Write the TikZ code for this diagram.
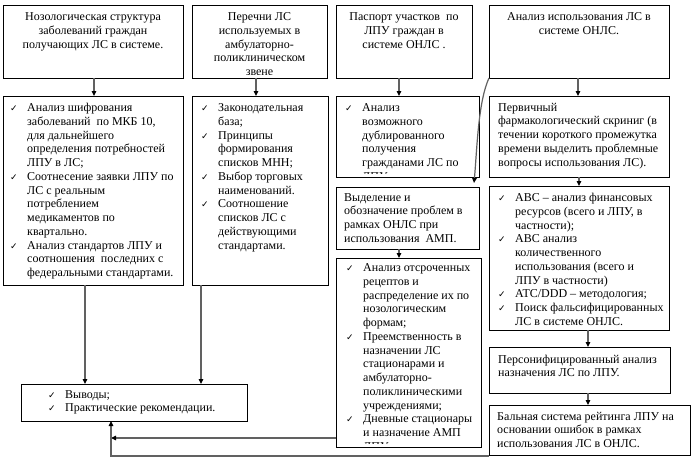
\documentclass[tikz,border=0pt]{standalone}
\usepackage{fontspec}
\setmainfont{Liberation Serif}
\newfontfamily\tnrf{Liberation Serif}
\newfontfamily\symf{DejaVu Sans}
\usetikzlibrary{arrows.meta,calc}
\newcommand\ckm{\makebox[17pt][l]{\symf\fontsize{9}{9}\selectfont ✓}}
\newcommand\hng{\makebox[17pt]{}}
\newcommand\tst{\rule{0pt}{10pt}}
\newcommand\bx[5]{\node[box,minimum width=#4pt-#2pt,minimum height=#5pt-#3pt] (#1) at (#2,#3) {};}
\begin{document}
\begin{tikzpicture}[x=1pt,y=-1pt,
  box/.style={draw=black,line width=0.8pt,inner sep=0pt,outer sep=0pt,anchor=north west},
  tfont/.style={font=\tnrf\fontsize{12}{13.75}\selectfont},
  ctxt/.style={tfont,inner sep=0pt,anchor=north,align=center},
  ltxt/.style={tfont,inner sep=0pt,anchor=north west,align=left},
  conn/.style={draw=black!62,line width=1.2pt,-{Triangle[length=5pt,width=4.5pt,color=black]}}]
\useasboundingbox (0,0) rectangle (693,458);
% boxes
\bx{a1}{3}{5}{183}{78}
\bx{a2}{192}{5}{327}{78}
\bx{a3}{336}{5}{472}{78}
\bx{a4}{489}{5}{669}{78}
\bx{b1}{3}{96}{183}{285}
\bx{b2}{192}{96}{328}{285}
\bx{b3}{336}{96}{479}{177}
\bx{b4}{489}{96}{669}{177}
\bx{c3}{336}{187}{479}{249}
\bx{c4}{489}{186}{669}{330}
\bx{d3}{336}{258}{481}{447}
\bx{d4}{489}{347}{670}{393}
\bx{e4}{489}{405}{690}{455}
\bx{f}{21}{384}{247}{421}
% texts
\node[ctxt] (a1t) at ($(a1.north)+(0,5.5)$) {\tst Нозологическая структура\\заболеваний граждан\\получающих ЛС в системе.};
\begin{scope}
\clip (192,5) rectangle (327,74.5);
\node[ctxt] (a2t) at ($(a2.north)+(0,5.5)$) {\tst Перечни ЛС\\используемых в\\амбулаторно-\\поликлиническом\\звене};
\end{scope}
\node[ctxt] (a3t) at ($(a3.north)+(0,5.5)$) {\tst Паспорт участков~ по\\ЛПУ граждан в\\системе ОНЛС .};
\node[ctxt] (a4t) at ($(a4.north)+(0,5.5)$) {\tst Анализ использования ЛС в\\системе ОНЛС.};
\node[ltxt] (b1t) at ($(b1.north west)+(7,5.5)$) {\tst\ckm Анализ шифрования\\\hng заболеваний~ по МКБ 10,\\\hng для дальнейшего\\\hng определения потребностей\\\hng ЛПУ в ЛС;\\\ckm Соотнесение заявки ЛПУ по\\\hng ЛС с реальным\\\hng потреблением\\\hng медикаментов по\\\hng квартально.\\\ckm Анализ стандартов ЛПУ и\\\hng соотношения~ последних с\\\hng федеральными стандартами.};
\node[ltxt] (b2t) at ($(b2.north west)+(9,5.5)$) {\tst\ckm Законодательная\\\hng база;\\\ckm Принципы\\\hng формирования\\\hng списков МНН;\\\ckm Выбор торговых\\\hng наименований.\\\ckm Соотношение\\\hng списков ЛС с\\\hng действующими\\\hng стандартами.};
\begin{scope}
\clip (336,96) rectangle (479,173.5);
\node[ltxt] (b3t) at ($(b3.north west)+(9,5.5)$) {\tst\ckm Анализ\\\hng возможного\\\hng дублированного\\\hng получения\\\hng гражданами ЛС по\\\hng ЛПУ.};
\end{scope}
\node[ltxt] (b4t) at ($(b4.north west)+(9,5)$) {\tst Первичный\\фармакологический скриниг (в\\течении короткого промежутка\\времени выделить проблемные\\вопросы использования ЛС).};
\node[ltxt] (c3t) at ($(c3.north west)+(8,4)$) {\tst Выделение и\\обозначение проблем в\\рамках ОНЛС при\\использования~ АМП.};
\node[ltxt] (c4t) at ($(c4.north west)+(9,5.5)$) {\tst\ckm ABC – анализ финансовых\\\hng ресурсов (всего и ЛПУ, в\\\hng частности);\\\ckm ABC анализ\\\hng количественного\\\hng использования (всего и\\\hng ЛПУ в частности)\\\ckm ATC/DDD – методология;\\\ckm Поиск фальсифицированных\\\hng ЛС в системе ОНЛС.};
\begin{scope}
\clip (336,258) rectangle (481,443.5);
\node[ltxt] (d3t) at ($(d3.north west)+(10,3.5)$) {\tst\ckm Анализ отсроченных\\\hng рецептов и\\\hng распределение их по\\\hng нозологическим\\\hng формам;\\\ckm Преемственность в\\\hng назначении ЛС\\\hng стационарами и\\\hng амбулаторно-\\\hng поликлиническими\\\hng учреждениями;\\\ckm Дневные стационары\\\hng и назначение АМП\\\hng ЛПУ.};
\end{scope}
\node[ltxt] (d4t) at ($(d4.north west)+(9,6)$) {\tst Персонифицированный анализ\\назначения ЛС по ЛПУ.};
\node[ltxt] (e4t) at ($(e4.north west)+(8,5)$) {\tst Бальная система рейтинга ЛПУ на\\основании ошибок в рамках\\использования ЛС в ОНЛС.};
\node[ltxt] (ft) at ($(f.north west)+(27,4)$) {\tst\ckm Выводы;\\\ckm Практические рекомендации.};
% connectors
\draw[conn] ([xshift=1pt]a1.south) -- ([xshift=1pt]a1.south |- b1.north);
\draw[conn] ([xshift=-3.5pt]a2.south) -- ([xshift=-3.5pt]a2.south |- b2.north);
\draw[conn] ([xshift=-5pt]a3.south) -- ([xshift=-5pt]a3.south |- b3.north);
\draw[conn] ([xshift=-1pt]a4.south) -- ([xshift=-1pt]a4.south |- b4.north);
\draw[conn] (b4.south) -- (b4.south |- c4.north);
\draw[conn] ([xshift=9pt]c4.south) -- ([xshift=9pt]c4.south |- d4.north);
\draw[conn] ([xshift=8.5pt]d4.south) -- ([xshift=8.5pt]d4.south |- e4.north);
\draw[conn] ([xshift=-8.5pt]c3.south) -- ([xshift=-8.5pt]c3.south |- d3.north);
\draw[conn] ([xshift=-8pt]b1.south) -- ([xshift=-8pt]b1.south |- f.north);
\draw[conn] ([xshift=-59pt]b2.south) -- ([xshift=-59pt]b2.south |- f.north);
\draw[conn] (a4.south west) .. controls (478,102) and (477,150) .. ($(c3.north east)+(-5,-4)$);
\coordinate (fbj) at (111,438);
\draw[conn] (d3.west |- fbj) -- (fbj);
\draw[conn] ([yshift=-1pt]e4.south west) -- ([yshift=-1pt]e4.south west -| fbj) -- (fbj |- f.south);
\end{tikzpicture}
\end{document}
